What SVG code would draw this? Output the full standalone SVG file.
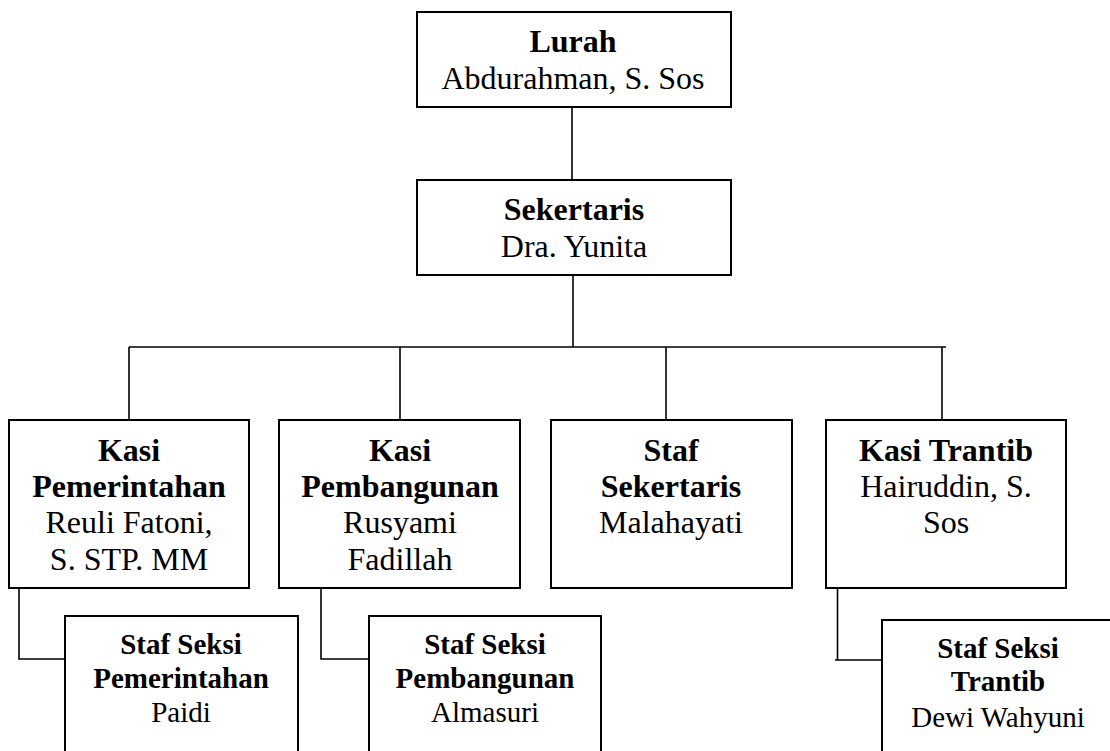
<svg xmlns="http://www.w3.org/2000/svg" width="1110" height="751" viewBox="0 0 1110 751">
<style>
.box{fill:#fff;stroke:#000;stroke-width:2}
.ln{fill:none;stroke:#000;stroke-width:1.6}
text{font-family:"Liberation Serif","Times New Roman",serif;fill:#000;text-anchor:middle}
.t{font-size:32px}
.b{font-weight:bold}
.s{font-size:29px}
</style>
<rect width="1110" height="751" fill="#fff"/>
<g id="connectors">
<path class="ln" d="M572 107V180"/>
<path class="ln" d="M573 275V347"/>
<path class="ln" d="M129 347H946"/>
<path class="ln" d="M129 347V420M400 347V420M666 347V420M942 347V420"/>
<path class="ln" d="M19 588V659H65"/>
<path class="ln" d="M321 588V659H369"/>
<path class="ln" d="M837.5 588V660M835 660H882"/>
</g>
<g id="lurah">
<rect class="box" x="417" y="12" width="314" height="95"/>
<text class="t b" x="573" y="52">Lurah</text>
<text class="t" x="573" y="89">Abdurahman, S. Sos</text>
</g>
<g id="sekertaris">
<rect class="box" x="417" y="180" width="314" height="95"/>
<text class="t b" x="574" y="220">Sekertaris</text>
<text class="t" x="574" y="257">Dra. Yunita</text>
</g>
<g id="kasi-pemerintahan">
<rect class="box" x="9" y="420" width="240" height="168"/>
<text class="t b" x="129" y="461">Kasi</text>
<text class="t b" x="129" y="497">Pemerintahan</text>
<text class="t" x="129" y="533">Reuli Fatoni,</text>
<text class="t" x="129" y="570">S. STP. MM</text>
</g>
<g id="kasi-pembangunan">
<rect class="box" x="279" y="420" width="241" height="168"/>
<text class="t b" x="400" y="461">Kasi</text>
<text class="t b" x="400" y="497">Pembangunan</text>
<text class="t" x="400" y="533">Rusyami</text>
<text class="t" x="400" y="570">Fadillah</text>
</g>
<g id="staf-sekertaris">
<rect class="box" x="551" y="420" width="241" height="168"/>
<text class="t b" x="671" y="461">Staf</text>
<text class="t b" x="671" y="497">Sekertaris</text>
<text class="t" x="671" y="533">Malahayati</text>
</g>
<g id="kasi-trantib">
<rect class="box" x="826" y="420" width="240" height="168"/>
<text class="t b" x="946" y="461">Kasi Trantib</text>
<text class="t" x="946" y="497">Hairuddin, S.</text>
<text class="t" x="946" y="533">Sos</text>
</g>
<g id="staf-seksi-pemerintahan">
<rect class="box" x="65" y="616" width="233" height="200"/>
<text class="s b" x="181" y="654">Staf Seksi</text>
<text class="s b" x="181" y="688">Pemerintahan</text>
<text class="s" x="181" y="722">Paidi</text>
</g>
<g id="staf-seksi-pembangunan">
<rect class="box" x="369" y="616" width="232" height="200"/>
<text class="s b" x="485" y="654">Staf Seksi</text>
<text class="s b" x="485" y="688">Pembangunan</text>
<text class="s" x="485" y="722">Almasuri</text>
</g>
<g id="staf-seksi-trantib">
<rect class="box" x="882" y="620" width="232" height="200"/>
<text class="s b" x="998" y="658">Staf Seksi</text>
<text class="s b" x="998" y="691">Trantib</text>
<text class="s" x="998" y="727">Dewi Wahyuni</text>
</g>
</svg>
